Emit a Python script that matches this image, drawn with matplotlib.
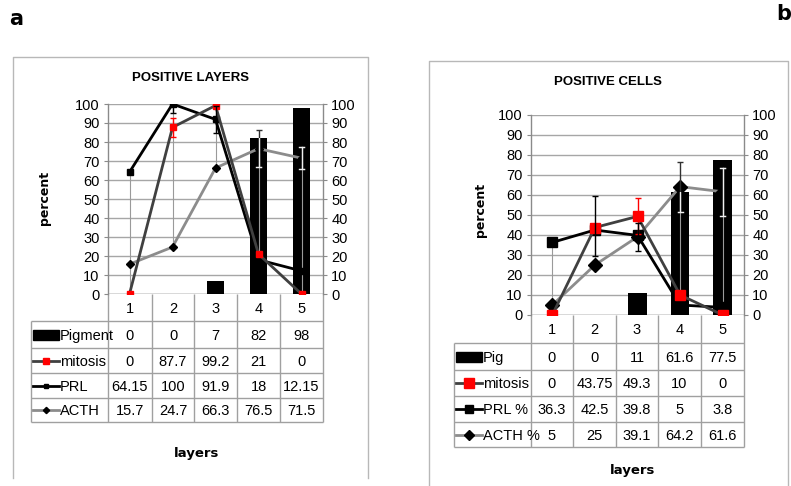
import numpy as np
import matplotlib
matplotlib.use("Agg")
import matplotlib.pyplot as plt
from matplotlib.patches import Rectangle
from matplotlib.lines import Line2D

plt.rcParams['font.family'] = ['Liberation Sans Narrow', 'Liberation Sans', 'DejaVu Sans']

# ---------------- data ----------------
layers = [1, 2, 3, 4, 5]

# panel a: positive layers
a_pigment = [0, 0, 7, 82, 98]
a_mitosis = [0, 87.7, 99.2, 21, 0]
a_prl = [64.15, 100, 91.9, 18, 12.15]
a_acth = [15.7, 24.7, 66.3, 76.5, 71.5]
a_mitosis_err = [0, 5, 0, 0, 0]
a_prl_err = [0, 5, 7.2, 0, 0]
a_acth_err = [0, 0, 0, 9.8, 5.8]
a_names = ["Pigment", "mitosis", "PRL", "ACTH"]

# panel b: positive cells
b_pig = [0, 0, 11, 61.6, 77.5]
b_mitosis = [0, 43.75, 49.3, 10, 0]
b_prl = [36.3, 42.5, 39.8, 5, 3.8]
b_acth = [5, 25, 39.1, 64.2, 61.6]
b_mitosis_err = [0, 1.5, 9, 0, 0]
b_prl_err_lo = [0, 13, 8, 0, 0]
b_prl_err_hi = [0, 17, 6, 0, 0]
b_acth_err = [0, 0, 0, 12.5, 12]
b_names = ["Pig", "mitosis", "PRL %", "ACTH %"]

yticks = list(range(0, 101, 10))

W, H = 791, 486
fig = plt.figure(figsize=(W / 100, H / 100), dpi=100)
fig.patch.set_facecolor("white")

# overlay in pixel coordinates for frames, table and labels
ov = fig.add_axes([0, 0, 1, 1])
ov.set_xlim(0, W)
ov.set_ylim(H, 0)
ov.axis("off")

GRID = "#a6a6a6"
TBL = "#a0a0a0"
MIT_C = "#404040"
ACTH_C = "#8c8c8c"
LIGHT = "#f0f0f0"


def px_axes(left, top, right, bottom):
    return fig.add_axes([left / W, 1 - bottom / H, (right - left) / W, (bottom - top) / H])


def panel(frame, title, title_xy, plot_box, col_edges, row_edges, key_x, name_x,
          series, names, errs, ylabel_xy, xlabel_xy, msize, bar_w):
    fl, ft, fr, fb = frame
    # outer chart frame
    ov.plot([fl, fl, fr, fr], [fb, ft, ft, fb], color="#b8b8b8", lw=1.0)
    ov.text(title_xy[0], title_xy[1], title, ha="center", va="center",
            fontsize=9.5, fontweight="bold")
    ov.text(ylabel_xy[0], ylabel_xy[1], "percent", rotation=90, ha="center",
            va="center", fontsize=9, fontweight="bold", family="DejaVu Sans")
    ov.text(xlabel_xy[0], xlabel_xy[1], "layers", ha="center", va="center",
            fontsize=9.5, fontweight="bold", family="DejaVu Sans")

    pl, pt, pr, pb = plot_box
    ax = px_axes(pl, pt, pr, pb)
    bars_v, mit_v, prl_v, acth_v = series
    x = np.array(layers)

    ax.set_xlim(0.5, 5.5)
    ax.set_ylim(0, 100)
    ax.set_yticks(yticks)
    ax.yaxis.grid(True, color=GRID, lw=1.0, zorder=0)
    ax.set_axisbelow(True)
    ax.set_xticks([])
    for s in ["top", "bottom"]:
        ax.spines[s].set_visible(False)
    for s in ["left", "right"]:
        ax.spines[s].set_color("#8a8a8a")
        ax.spines[s].set_linewidth(1.0)
    ax.tick_params(axis="y", labelsize=10.5, length=3, color="#8a8a8a", pad=3,
                   left=True, right=True, labelleft=True, labelright=True)
    ax.axhline(0, color="#8a8a8a", lw=1.0, zorder=1)

    bars = ax.bar(x, bars_v, width=bar_w, color="black", zorder=2)

    # high-low lines across the line series
    stack = np.vstack([mit_v, prl_v, acth_v])
    ax.vlines(x, stack.min(axis=0), stack.max(axis=0), color="#9a9a9a", lw=0.8, zorder=2.5)

    ax.plot(x, acth_v, color=ACTH_C, lw=2.0, marker="D", ms=msize, mfc="black",
            mec="black", zorder=4)
    ax.plot(x, prl_v, color="black", lw=2.0, marker="s", ms=msize, mfc="black",
            mec="black", zorder=5)
    ax.plot(x, mit_v, color=MIT_C, lw=2.0, marker="s", ms=msize, mfc="red",
            mec="red", zorder=6)

    mit_e, prl_e, acth_e = errs

    def split_err(err):
        err = np.asarray(err, dtype=float)
        if err.ndim == 1:
            return err, err
        return err[0], err[1]

    def ebar(vals, err, color, z):
        lo, hi = split_err(err)
        mask = (lo + hi) > 0
        ax.errorbar(x[mask], np.asarray(vals)[mask], yerr=[lo[mask], hi[mask]],
                    fmt="none", ecolor=color, elinewidth=1.0, capsize=2.5,
                    capthick=1.0, zorder=z)

    ebar(mit_v, mit_e, "red", 7)
    ebar(prl_v, prl_e, "black", 7)
    ebar(acth_v, acth_e, "#303030", 7)

    # where the ACTH error marks cross a black bar they show light
    lo, hi = split_err(acth_e)
    for i in np.where((lo + hi) > 0)[0]:
        rect = bars.patches[i]
        y0, y1 = acth_v[i] - lo[i], acth_v[i] + hi[i]
        segs = [([x[i], x[i]], [y0, y1]),
                ([x[i] - 0.06, x[i] + 0.06], [y0, y0]),
                ([x[i] - 0.06, x[i] + 0.06], [y1, y1])]
        for xs, ys in segs:
            ln = Line2D(xs, ys, color=LIGHT, lw=1.0, zorder=7.5)
            ax.add_line(ln)
            ln.set_clip_path(rect)

    # data table beneath the plot
    tl = key_x[0] - 2
    ov.vlines(col_edges, pb, row_edges[-1], color=TBL, lw=1.0)
    ov.vlines([tl], row_edges[0], row_edges[-1], color=TBL, lw=1.0)
    ov.hlines(row_edges, tl, col_edges[-1], color=TBL, lw=1.0)
    cat_y = (pb + row_edges[0]) / 2
    centers = [(col_edges[i] + col_edges[i + 1]) / 2 for i in range(5)]
    for cx, lab in zip(centers, layers):
        ov.text(cx, cat_y + 1, str(lab), ha="center", va="center", fontsize=10.5)
    for r, (vals, name) in enumerate(zip(series, names)):
        yc = (row_edges[r] + row_edges[r + 1]) / 2
        for cx, v in zip(centers, vals):
            ov.text(cx, yc + 1, f"{v:g}", ha="center", va="center", fontsize=10.5)
        ov.text(name_x, yc + 1, name, ha="left", va="center", fontsize=10.5)
        k0, k1 = key_x
        km = (k0 + k1) / 2
        if r == 0:
            ov.add_patch(Rectangle((k0, yc - 5), k1 - k0, 10, color="black"))
        elif r == 1:
            ov.plot([k0, k1], [yc, yc], color=MIT_C, lw=2.0)
            ov.plot([km], [yc], marker="s", ms=msize, color="red")
        elif r == 2:
            ov.plot([k0, k1], [yc, yc], color="black", lw=2.0)
            ov.plot([km], [yc], marker="s", ms=msize * 0.8, color="black")
        else:
            ov.plot([k0, k1], [yc, yc], color=ACTH_C, lw=2.0)
            ov.plot([km], [yc], marker="D", ms=msize * 0.8, color="black")
    return ax


panel(frame=(13, 57, 368, 478), title="POSITIVE LAYERS", title_xy=(190, 78),
      plot_box=(108, 104, 323, 294),
      col_edges=[108, 152, 194, 237, 280, 323],
      row_edges=[321, 348, 373, 398, 422],
      key_x=(33, 59), name_x=60,
      series=(a_pigment, a_mitosis, a_prl, a_acth), names=a_names,
      errs=(a_mitosis_err, a_prl_err, a_acth_err),
      ylabel_xy=(45, 198), xlabel_xy=(197, 453), msize=4, bar_w=0.4)

panel(frame=(429, 61, 788, 490), title="POSITIVE CELLS", title_xy=(608, 82),
      plot_box=(531, 115, 744, 315),
      col_edges=[531, 573, 616, 658, 701, 744],
      row_edges=[343, 370, 396, 422, 447],
      key_x=(456, 482), name_x=483,
      series=(b_pig, b_mitosis, b_prl, b_acth), names=b_names,
      errs=(b_mitosis_err, np.array([b_prl_err_lo, b_prl_err_hi]), b_acth_err),
      ylabel_xy=(480, 210), xlabel_xy=(633, 470), msize=7, bar_w=0.44)

ov.text(16, 19, "a", ha="center", va="center", fontsize=15, fontweight="bold",
        family="DejaVu Sans")
ov.text(784, 14, "b", ha="center", va="center", fontsize=15, fontweight="bold",
        family="DejaVu Sans")

fig.savefig("out.png", dpi=100)
